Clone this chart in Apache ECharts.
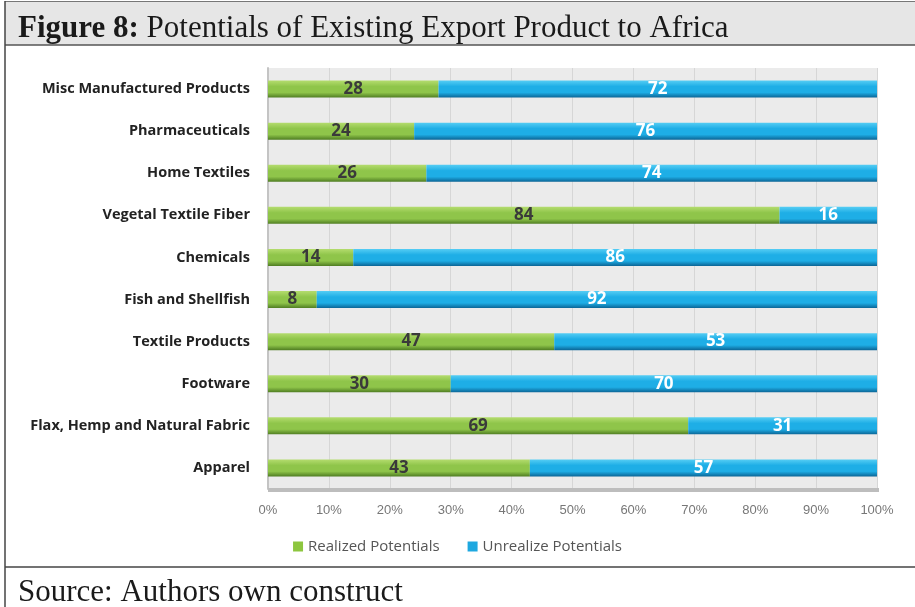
<!DOCTYPE html>
<html>
<head>
<meta charset="utf-8">
<script src="https://cdn.jsdelivr.net/npm/echarts@6/dist/echarts.min.js"></script>
<style>
  html, body { margin: 0; padding: 0; background: #ffffff; }
  #chart { width: 915px; height: 607px; }
</style>
</head>
<body>
<div id="chart"></div>
<script>
// Product groups, listed top to bottom
const categories = [
  'Misc Manufactured Products',
  'Pharmaceuticals',
  'Home Textiles',
  'Vegetal Textile Fiber',
  'Chemicals',
  'Fish and Shellfish',
  'Textile Products',
  'Footware',
  'Flax, Hemp and Natural Fabric',
  'Apparel'
];
// Share of potential already realized (%)
const realized = [28, 24, 26, 84, 14, 8, 47, 30, 69, 43];
// Share of potential not yet realized (%)
const unrealized = [72, 76, 74, 16, 86, 92, 53, 70, 31, 57];
const seriesNames = ['Realized Potentials', 'Unrealize Potentials'];

const chart = echarts.init(document.getElementById('chart'));

// vertical gradient gives the bars a rounded, tube-like look
function tube(top, mid, bottom) {
  return new echarts.graphic.LinearGradient(0, 0, 0, 1, [
    { offset: 0, color: top },
    { offset: 0.35, color: mid },
    { offset: 0.7, color: mid },
    { offset: 1, color: bottom }
  ]);
}

const barFont = { fontFamily: 'Open Sans', fontWeight: 'bold', fontSize: 17 };

chart.setOption({
  backgroundColor: '#ffffff',
  animation: false,
  graphic: [
    // title band
    { type: 'rect', shape: { x: 5, y: 2, width: 910, height: 43 },
      style: { fill: '#e6e6e6', stroke: null }, z: -10 },
    { type: 'line', shape: { x1: 5, y1: 45, x2: 915, y2: 45 },
      style: { stroke: '#555', lineWidth: 1.5 } },
    { type: 'line', shape: { x1: 5, y1: 1.5, x2: 915, y2: 1.5 },
      style: { stroke: '#777', lineWidth: 1 } },
    // outer frame, left side
    { type: 'line', shape: { x1: 5, y1: 1, x2: 5, y2: 607 },
      style: { stroke: '#444', lineWidth: 1.5 } },
    // separator above source note
    { type: 'line', shape: { x1: 5, y1: 567, x2: 915, y2: 567 },
      style: { stroke: '#444', lineWidth: 1.5 } },
    // plot floor
    { type: 'rect', shape: { x: 268, y: 488, width: 611, height: 4 },
      style: { fill: '#bdbdbd' }, z: 1 },
    {
      type: 'text', left: 18, top: 13,
      style: {
        rich: {
          b: { fontFamily: 'Liberation Serif', fontWeight: 'bold', fontSize: 31, fill: '#1a1a1a' },
          n: { fontFamily: 'Liberation Serif', fontSize: 31, fill: '#1a1a1a' }
        },
        text: '{b|Figure 8:}{n| Potentials of Existing Export Product to Africa}'
      }
    },
    {
      type: 'text', left: 18, top: 577,
      style: {
        text: 'Source: Authors own construct',
        fontFamily: 'Liberation Serif', fontSize: 31, fill: '#1a1a1a'
      }
    }
  ],
  legend: {
    data: [
      { name: seriesNames[0], itemStyle: { color: '#8dc63f' } },
      { name: seriesNames[1], itemStyle: { color: '#1ea8e0' } }
    ],
    bottom: 48,
    left: 'center',
    itemWidth: 10,
    itemHeight: 10,
    itemGap: 28,
    icon: 'rect',
    textStyle: { fontFamily: 'Open Sans', fontSize: 15, color: '#555' }
  },
  grid: {
    left: 268, right: 38, top: 68, bottom: 118,
    show: true, backgroundColor: '#ebebeb', borderWidth: 0
  },
  xAxis: {
    type: 'value',
    min: 0, max: 100, interval: 10,
    axisLine: { show: false },
    axisTick: { show: false },
    axisLabel: {
      formatter: '{value}%', margin: 15,
      fontFamily: 'Liberation Sans', fontSize: 13, color: '#777'
    },
    splitLine: { show: true, lineStyle: { color: '#d6d6d6', width: 1 } }
  },
  yAxis: {
    type: 'category',
    data: categories,
    inverse: true,
    axisLine: { show: true, lineStyle: { color: '#c4c4c4', width: 2 } },
    axisTick: { show: false },
    axisLabel: {
      margin: 18,
      fontFamily: 'Open Sans', fontWeight: 'bold', fontSize: 14.5, color: '#222'
    }
  },
  series: [
    {
      name: seriesNames[0], type: 'bar', stack: 'total',
      data: realized, barWidth: 17,
      itemStyle: { color: tube('#b4dc6e', '#8fc54a', '#4f7d22') },
      label: { show: true, position: 'inside', color: '#3a3a3a', ...barFont }
    },
    {
      name: seriesNames[1], type: 'bar', stack: 'total',
      data: unrealized, barWidth: 17,
      itemStyle: { color: tube('#55cdf4', '#1eaee6', '#0b6596') },
      label: { show: true, position: 'inside', color: '#ffffff', ...barFont }
    }
  ]
});
</script>
</body>
</html>
